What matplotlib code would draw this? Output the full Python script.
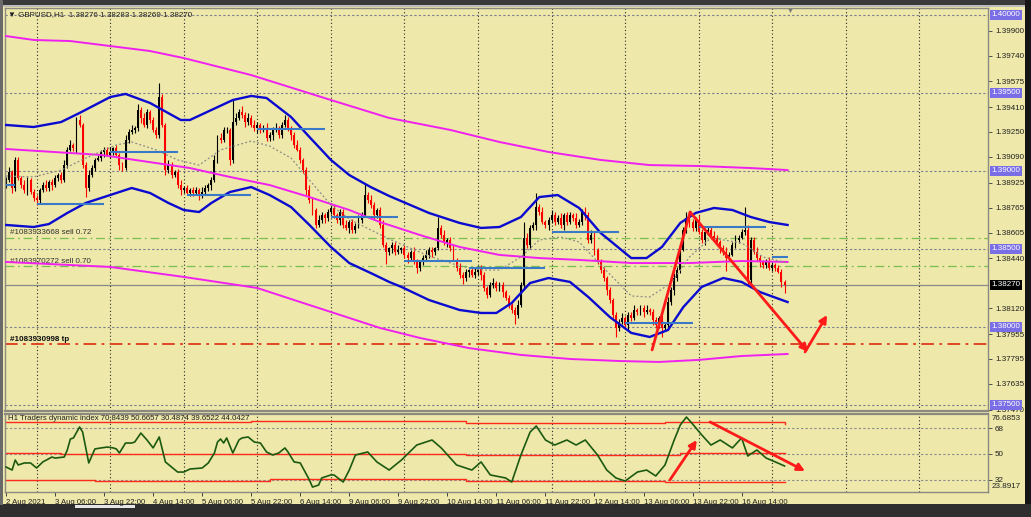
import matplotlib
matplotlib.use('Agg')
import matplotlib.pyplot as plt
import numpy as np
from matplotlib.patches import Rectangle

plt.rcParams['font.family'] = ['Liberation Sans', 'DejaVu Sans']

# ---------------- DATA ----------------
first_open = 1.38910
closes = [
    1.38942,1.38994,1.38891,1.39071,1.38955,1.38910,1.38878,1.38942,1.38865,1.38827,
    1.38814,1.38878,1.38910,1.38891,1.38930,1.38910,1.38955,1.38974,1.38942,1.39038,
    1.39135,1.39167,1.39147,1.39327,1.39295,1.39038,1.38891,1.38974,1.39019,1.39071,
    1.39083,1.39122,1.39135,1.39103,1.39122,1.39147,1.39103,1.39038,1.39019,1.39199,
    1.39250,1.39263,1.39276,1.39391,1.39340,1.39295,1.39378,1.39327,1.39263,1.39231,
    1.39474,1.39295,1.39006,1.39038,1.38974,1.38994,1.38910,1.38878,1.38891,1.38859,
    1.38878,1.38859,1.38878,1.38846,1.38865,1.38891,1.38910,1.38942,1.39071,1.39212,
    1.39199,1.39263,1.39263,1.39071,1.39314,1.39340,1.39378,1.39359,1.39314,1.39340,
    1.39295,1.39276,1.39295,1.39263,1.39276,1.39212,1.39231,1.39263,1.39276,1.39231,
    1.39295,1.39327,1.39276,1.39231,1.39167,1.39135,1.39071,1.39006,1.38878,1.38814,
    1.38750,1.38654,1.38686,1.38718,1.38699,1.38737,1.38763,1.38718,1.38686,1.38737,
    1.38654,1.38635,1.38673,1.38622,1.38647,1.38686,1.38718,1.38846,1.38814,1.38782,
    1.38718,1.38750,1.38654,1.38526,1.38481,1.38506,1.38526,1.38481,1.38494,1.38506,
    1.38462,1.38442,1.38481,1.38417,1.38378,1.38417,1.38442,1.38462,1.38494,1.38481,
    1.38506,1.38635,1.38590,1.38545,1.38558,1.38506,1.38430,1.38378,1.38333,1.38314,
    1.38353,1.38365,1.38333,1.38353,1.38378,1.38333,1.38250,1.38205,1.38269,1.38282,
    1.38250,1.38269,1.38224,1.38186,1.38141,1.38109,1.38077,1.38141,1.38269,1.38571,
    1.38526,1.38635,1.38654,1.38769,1.38737,1.38673,1.38654,1.38686,1.38718,1.38673,
    1.38699,1.38654,1.38718,1.38673,1.38718,1.38699,1.38654,1.38673,1.38737,1.38718,
    1.38558,1.38590,1.38494,1.38417,1.38365,1.38314,1.38237,1.38173,1.38077,1.37994,
    1.38032,1.38058,1.38013,1.38077,1.38058,1.38109,1.38096,1.38122,1.38096,1.38109,
    1.38096,1.38045,1.38013,1.38058,1.37994,1.38013,1.38160,1.38237,1.38314,1.38365,
    1.38494,1.38622,1.38699,1.38673,1.38635,1.38686,1.38609,1.38558,1.38609,1.38622,
    1.38583,1.38571,1.38545,1.38506,1.38481,1.38442,1.38462,1.38526,1.38558,1.38571,
    1.38609,1.38622,1.38301,1.38558,1.38481,1.38442,1.38417,1.38398,1.38417,1.38378,
    1.38398,1.38378,1.38353,1.38289,1.38270]
# wick lengths beyond the body, in pips
up_wick = [
    2,3,1,2,2,1,3,2,1,2, 2,1,2,3,1,2,2,1,2,3, 2,3,1,2,3,1,2,3,2,1, 2,1,2,2,3,1,2,1,2,3,
    2,3,1,4,2,3,2,1,2,2, 9,2,1,3,2,1,2,3,1,2, 1,2,2,1,3,2,1,2,3,2, 3,2,2,1,14,3,2,4,2,3,
    2,3,2,1,2,3,2,2,3,1, 2,3,2,1,2,3,2,1,2,3, 2,1,3,2,1,2,3,2,1,2, 2,3,1,2,2,3,2,8,2,3,
    2,1,2,3,2,1,2,2,3,1, 2,2,1,3,2,1,2,3,2,2, 1,7,2,3,1,2,2,1,3,2, 2,1,2,3,1,2,2,1,2,3,
    1,2,2,1,2,1,2,3,2,10, 3,2,2,9,2,3,1,2,3,2, 2,3,1,2,2,1,3,2,2,3, 2,3,2,1,2,2,1,2,1,2,
    2,3,1,2,2,3,1,2,2,3, 1,2,2,1,2,2,3,2,3,2, 2,2,4,3,2,2,3,2,1,2, 2,3,2,1,2,3,2,2,3,2,
    2,15,3,2,2,3,2,1,2,3, 2,1,2,2,1]
dn_wick = [
    2,1,3,2,1,2,2,3,1,2, 3,2,1,2,2,3,1,2,2,1, 2,1,2,3,1,2,6,2,1,2, 1,2,3,1,2,2,1,3,2,1,
    2,1,2,2,3,1,2,2,1,2, 2,1,3,2,2,1,2,3,2,1, 2,2,1,3,2,1,2,3,1,2, 2,1,2,3,2,2,1,2,3,2,
    1,2,3,2,1,2,2,3,1,2, 2,1,2,3,2,1,2,2,3,2, 3,2,1,2,3,2,1,2,2,3, 2,1,3,2,2,1,2,1,2,2,
    3,2,2,1,8,2,3,2,1,2, 2,3,2,1,3,2,2,1,2,3, 2,1,2,2,3,2,1,2,2,4, 2,3,1,2,2,3,2,2,1,2,
    2,2,3,1,2,2,6,2,1,2, 2,2,1,3,2,1,2,3,2,2, 1,2,3,2,1,2,2,1,2,3, 2,2,3,1,2,2,3,2,2,6,
    2,1,2,3,2,1,2,2,3,1, 2,3,2,2,6,2,1,2,3,2, 2,1,2,3,2,2,1,2,3,2, 2,2,1,3,2,8,2,1,2,2,
    1,2,3,2,1,2,3,2,2,1, 2,2,1,3,5]

# blue channel (upper / middle / lower), sampled at bar indices
ub_bars = [0,9,18,24,34,39,47,57,60,67,74,80,85,93,99,106,112,119,125,138,148,155,161,168,174,180,187,194,204,209,214,220,225,231,237,243,249,255]
ub_vals = [1.39295,1.39282,1.39314,1.39372,1.39474,1.39494,1.39436,1.39327,1.39327,1.39391,1.39455,1.39481,1.39468,1.39346,1.39218,1.39071,1.38974,1.38897,1.38840,1.38731,1.38667,1.38635,1.38641,1.38705,1.38833,1.38846,1.38763,1.38603,1.38442,1.38442,1.38513,1.38667,1.38731,1.38763,1.38750,1.38705,1.38673,1.38654]
lb_bars = [0,9,14,20,26,34,41,47,53,58,63,67,73,80,86,93,99,106,112,119,125,129,138,148,155,160,165,171,177,184,190,197,204,210,216,221,227,234,240,246,255]
lb_vals = [1.38654,1.38641,1.38660,1.38731,1.38795,1.38846,1.38891,1.38859,1.38795,1.38750,1.38737,1.38795,1.38865,1.38897,1.38846,1.38769,1.38654,1.38513,1.38410,1.38346,1.38289,1.38257,1.38173,1.38109,1.38090,1.38090,1.38154,1.38282,1.38314,1.38289,1.38192,1.38064,1.37962,1.37936,1.37981,1.38128,1.38257,1.38314,1.38289,1.38224,1.38160]
mid_bars = [0,9,18,26,36,41,49,56,63,70,80,86,93,99,106,112,119,125,138,148,155,161,168,174,181,187,194,204,210,217,223,230,240,247,255]
mid_vals = [1.38968,1.38962,1.39006,1.39083,1.39167,1.39186,1.39135,1.39071,1.39038,1.39135,1.39192,1.39160,1.39083,1.38942,1.38782,1.38692,1.38622,1.38564,1.38455,1.38391,1.38365,1.38365,1.38449,1.38558,1.38577,1.38545,1.38398,1.38199,1.38192,1.38282,1.38449,1.38571,1.38539,1.38449,1.38410]

# magenta envelope (upper / middle / lower)
mu_bars = [0,9,21,34,47,58,80,106,125,145,161,177,194,210,226,243,255]
mu_vals = [1.39865,1.39840,1.39833,1.39801,1.39769,1.39724,1.39615,1.39455,1.39340,1.39263,1.39186,1.39122,1.39071,1.39038,1.39032,1.39019,1.39006]
mm_bars = [0,31,60,73,86,99,112,122,135,148,161,174,187,204,223,240,255]
mm_vals = [1.39141,1.39103,1.39019,1.38962,1.38910,1.38833,1.38750,1.38673,1.38590,1.38513,1.38462,1.38442,1.38430,1.38410,1.38410,1.38423,1.38417]
ml_bars = [0,34,58,82,96,112,122,135,151,168,184,200,213,226,240,255]
ml_vals = [1.38417,1.38385,1.38321,1.38250,1.38160,1.38058,1.37994,1.37930,1.37865,1.37821,1.37795,1.37782,1.37776,1.37789,1.37814,1.37827]

# short steel-blue level segments
lvl_start = [0,10,34,59,82,106,130,151,178,202,226,250]
lvl_end = [3,32,56,80,104,128,152,176,200,224,248,255]
lvl_price = [1.38910,1.38788,1.39122,1.38846,1.39269,1.38705,1.38423,1.38378,1.38609,1.38026,1.38641,1.38449]

round_levels = [1.40000,1.39500,1.39000,1.38500,1.38000,1.37500]
sell_levels = [1.38571,1.38391]
sell_labels = ['#1083933668 sell 0.72', '#1083970272 sell 0.70']
tp_level = 1.37891
tp_label = '#1083930998 tp'
last_price = 1.38270

price_ticks = [1.39900,1.39740,1.39575,1.39410,1.39250,1.39090,1.38925,1.38765,1.38605,1.38440,1.38120,1.37955,1.37795,1.37635,1.37470]

# Traders Dynamic Index
tdi_bars = [0,2,3,4,6,8,10,12,15,16,19,20,21,22,24,25,27,29,31,33,35,36,37,39,41,42,44,46,48,50,
            52,54,56,58,60,64,66,68,69,70,71,72,74,76,77,79,81,83,85,87,89,91,92,94,96,99,100,102,103,106,
            107,110,112,114,118,121,125,129,134,139,142,147,152,155,158,163,165,168,171,173,176,179,183,186,189,193,196,199,202,206,
            209,212,215,218,220,222,224,227,230,233,237,240,242,245,248,251,254]
tdi_vals = [41.0,38.9,45.8,42.4,43.8,43.8,40.3,44.5,47.9,47.2,47.9,52.8,60.4,61.1,68.7,65.2,43.8,53.5,54.2,54.8,
            54.2,53.5,50.7,57.6,57.6,58.3,64.5,59.7,54.2,61.8,44.5,41.0,37.5,37.5,39.6,40.3,43.8,50.7,58.3,60.4,
            57.6,61.1,50.7,59.7,61.1,61.8,58.3,57.6,51.4,49.3,50.7,54.2,51.4,44.5,43.8,32.0,27.1,28.5,33.4,35.5,
            35.5,30.6,38.9,49.3,51.4,44.5,38.9,45.8,56.2,59.7,54.2,42.4,38.9,44.5,35.5,33.4,30.6,49.3,65.2,69.4,
            59.7,56.2,59.7,56.2,59.7,49.3,38.9,33.4,31.3,37.5,38.9,34.8,42.4,59.7,70.1,75.6,70.8,63.2,56.2,59.7,
            54.2,61.1,48.6,52.8,47.2,44.5,41.7]
tdi_up_bars = [0,80,150,215,254]
tdi_up_vals = [72.0,72.6,71.6,72.3,70.84]
tdi_mid_bars = [0,18,72,150,220,254]
tdi_mid_vals = [51.0,49.8,50.3,49.6,51.0,50.67]
tdi_lo_bars = [0,29,86,150,215,254]
tdi_lo_vals = [32.0,31.3,32.4,31.5,30.5,30.49]
tdi_levels = [68,50,32]

xt_bars = [0,16,32,48,64,80,96,112,128,144,160,176,192,208,224,240]
xt_labels = ['2 Aug 2021','3 Aug 06:00','3 Aug 22:00','4 Aug 14:00','5 Aug 06:00','5 Aug 22:00',
             '6 Aug 14:00','9 Aug 06:00','9 Aug 22:00','10 Aug 14:00','11 Aug 06:00','11 Aug 22:00',
             '12 Aug 14:00','13 Aug 06:00','13 Aug 22:00','16 Aug 14:00']
day_bars = [10,34,58,82,106,130,154,178,202,226,250,274,298]

# drawn arrows (bar, price) / (bar, tdi)
up_line = [(210.8,1.37853),(223.2,1.38737)]
down_arrow = [(223.2,1.38737),(261.7,1.37840)]
rebound_arrow = [(260.7,1.37840),(267.9,1.38077)]
tdi_arrow1 = [(216.6,32.0),(225.4,59.7)]
tdi_arrow2 = [(229.7,72.2),(260.7,38.2)]

# ---------------- FIGURE ----------------
W, H = 1031, 517
BG = '#EEE8AA'
fig = plt.figure(figsize=(W/100, H/100), dpi=100)
fig.patch.set_facecolor(BG)

def frect(x0, y0, w, h, c):
    fig.patches.append(Rectangle((x0/W, 1-(y0+h)/H), w/W, h/H, transform=fig.transFigure,
                                 fc=c, ec='none', zorder=-1))

frect(0, 0, W, 5, '#3a3a3a')
frect(0, 5, W, 1.5, '#bdbdbd')
frect(1025, 0, 6, H, '#151515')
frect(0, 504, W, 13, '#2e2e2e')
frect(75, 505, 60, 3, '#e6e6e6')
frect(0, 0, 2.5, 505, '#6a6a6a')

PX = 3.065  # pixels per bar
ax = fig.add_axes([5/W, 1-411/H, 983/W, 403/H])
axi = fig.add_axes([5/W, 1-492/H, 983/W, 78/H])
for a in (ax, axi):
    a.set_facecolor(BG)
    a.set_xlim(-1/PX, 982/PX)
    for s in a.spines.values():
        s.set_color('#8a8a80')
        s.set_linewidth(1.0)
ax.spines['bottom'].set_linewidth(1.6)
axi.spines['top'].set_linewidth(1.6)

ymin = 1.40 - (411-15)/15600
ymax = 1.40 + (15-8)/15600
ax.set_ylim(ymin, ymax)
axi.set_ylim(50 - 38/1.444, 50 + 40/1.444)

# grid: daily verticals
for a in (ax, axi):
    for b in day_bars:
        a.axvline(b, color='#2a2a2a', lw=0.8, ls=(0, (1, 2.2)), zorder=1)

# round levels
for lv in round_levels:
    ax.axhline(lv, color='#7c7c90', lw=0.8, ls=(0, (2, 2)), zorder=1)

# order lines
for lv in sell_levels:
    ax.axhline(lv, color='#78c050', lw=0.9, ls=(0, (7, 3, 1.5, 3)), zorder=1)
ax.axhline(tp_level, color='#e03a1a', lw=1.3, ls=(0, (7, 3, 1.5, 3)), zorder=1)
ax.axhline(last_price, color='#8a8a8a', lw=0.9, zorder=1)

# candles
c = np.array(closes)
o = np.concatenate([[first_open], c[:-1]])
hi = np.maximum(o, c) + np.array(up_wick) * 0.0001
lo = np.minimum(o, c) - np.array(dn_wick) * 0.0001
x = np.arange(len(c))
cols = np.where(c >= o, '#000000', '#ff0000')
ax.vlines(x, lo, hi, colors=cols, lw=0.8, zorder=2)
hgt = np.maximum(np.abs(c - o), 0.00003)
ax.bar(x, hgt, bottom=np.minimum(o, c), width=0.62, color=cols, linewidth=0, zorder=2)

# channels
ax.plot(mu_bars, mu_vals, color='#f020f0', lw=1.4, zorder=3)
ax.plot(mm_bars, mm_vals, color='#f020f0', lw=1.4, zorder=3)
ax.plot(ml_bars, ml_vals, color='#f020f0', lw=1.4, zorder=3)
ax.plot(mid_bars, mid_vals, color='#8a8a8a', lw=0.9, ls=(0, (1.5, 1.8)), zorder=3)
ax.plot(ub_bars, ub_vals, color='#0a0ad0', lw=1.7, zorder=3)
ax.plot(lb_bars, lb_vals, color='#0a0ad0', lw=1.7, zorder=3)
for s, e, p in zip(lvl_start, lvl_end, lvl_price):
    ax.plot([s, e], [p, p], color='#3a78c8', lw=1.5, zorder=3, solid_capstyle='butt')

# order labels
ax.text(1.3, 1.38603, sell_labels[0], fontsize=5.8, color='#303030', va='center', zorder=4)
ax.text(1.3, 1.38423, sell_labels[1], fontsize=5.8, color='#303030', va='center', zorder=2)
ax.text(1.3, 1.37923, tp_label, fontsize=5.8, color='#101010', va='center', zorder=4, fontweight='bold')

# drawn arrows
ax.plot([up_line[0][0], up_line[1][0]], [up_line[0][1], up_line[1][1]], color='#ff1a1a', lw=2, zorder=5,
        solid_capstyle='round')
for seg in (down_arrow, rebound_arrow):
    ax.annotate('', xy=seg[1], xytext=seg[0], zorder=5,
                arrowprops=dict(arrowstyle='-|>', color='#ff1a1a', lw=2, mutation_scale=11,
                                shrinkA=0, shrinkB=0))

# price axis
ax.yaxis.tick_right()
ax.set_yticks(price_ticks)
ax.set_yticklabels([f'{v:.5f}' for v in price_ticks])
ax.tick_params(axis='y', length=3, width=0.7, color='#505050', labelsize=5.8, pad=2, labelcolor='#202020')
ax.set_xticks([])
for lv in round_levels:
    ax.text(1.0035, lv, f'{lv:.5f}', transform=ax.get_yaxis_transform(), fontsize=5.8, color='white',
            va='center', ha='left', zorder=6, clip_on=False,
            bbox=dict(boxstyle='square,pad=0.22', fc='#7a6ee6', ec='none'))
ax.text(1.0035, last_price, f'{last_price:.5f}', transform=ax.get_yaxis_transform(), fontsize=5.8,
        color='white', va='center', ha='left', zorder=6, clip_on=False,
        bbox=dict(boxstyle='square,pad=0.22', fc='#000000', ec='none'))

ax.text(3/983, 1 - 3/403, '\u25bc GBPUSD,H1  1.38276 1.38283 1.38269 1.38270', transform=ax.transAxes,
        fontsize=5.8, color='#202020', va='top', ha='left', zorder=6)
ax.text(255.8, ymax, '\u25bc', fontsize=5, color='#7a7a7a', ha='center', va='top', zorder=6)

# ---------------- indicator ----------------
for lv in tdi_levels:
    axi.axhline(lv, color='#8a8a90', lw=0.8, ls=(0, (2, 2)), zorder=1)
axi.plot(tdi_up_bars, tdi_up_vals, color='#ff2a1a', lw=1.0, drawstyle='steps-post', zorder=2)
axi.plot(tdi_mid_bars, tdi_mid_vals, color='#ff2a1a', lw=1.0, drawstyle='steps-post', zorder=2)
axi.plot(tdi_lo_bars, tdi_lo_vals, color='#ff2a1a', lw=1.0, drawstyle='steps-post', zorder=2)
axi.plot(tdi_bars, tdi_vals, color='#1c5a10', lw=1.2, zorder=3)
for seg in (tdi_arrow1, tdi_arrow2):
    axi.annotate('', xy=seg[1], xytext=seg[0], zorder=5,
                 arrowprops=dict(arrowstyle='-|>', color='#ff1a1a', lw=2, mutation_scale=11,
                                 shrinkA=0, shrinkB=0))
axi.text(3/983, 1 - 1.5/78, 'H1 Traders dynamic index 70.8439 50.6657 30.4874 39.6522 44.0427',
         transform=axi.transAxes, fontsize=5.6, color='#202020', va='top', ha='left', zorder=6)

axi.yaxis.tick_right()
axi.set_yticks(tdi_levels)
axi.set_yticklabels(['68', '50', '32'])
axi.tick_params(axis='y', length=3, width=0.7, color='#505050', labelsize=5.8, pad=2, labelcolor='#202020')
axi.text(1.0035, 1 - 5/78, '76.6853', transform=axi.transAxes, fontsize=5.8, color='#202020',
         va='center', ha='left', clip_on=False)
axi.text(1.0035, 1 - 73/78, '23.8917', transform=axi.transAxes, fontsize=5.8, color='#202020',
         va='center', ha='left', clip_on=False)

axi.set_xticks(xt_bars)
axi.set_xticklabels(xt_labels, ha='left')
axi.tick_params(axis='x', length=3, width=0.7, color='#404040', labelsize=5.6, pad=2, labelcolor='#202020')

fig.savefig('out.png', dpi=100, facecolor=fig.get_facecolor())
